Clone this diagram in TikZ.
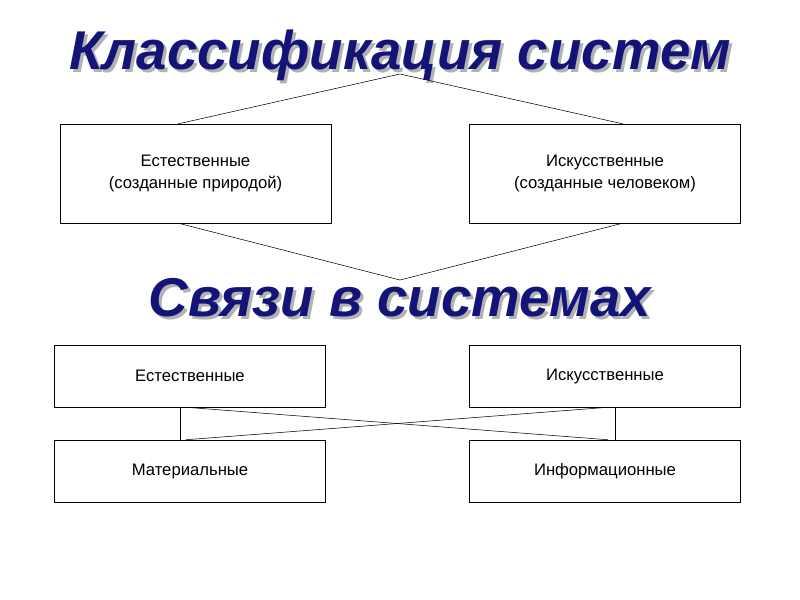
\documentclass[tikz,border=0pt]{standalone}
\usepackage{fontspec}
\setmainfont{Liberation Sans}
\definecolor{navy}{RGB}{20,20,120}
\tikzset{
  box/.style={draw,thin,minimum width=203pt,inner sep=0pt,align=center,font=\fontsize{12.5}{16}\selectfont},
  title/.style={font=\fontsize{41}{43}\selectfont\bfseries\itshape,text=navy},
  link/.style={draw,thin}
}
\begin{document}
\begin{tikzpicture}[x=0.75pt,y=-0.75pt]
\useasboundingbox (0,0) rectangle (800,600);
% titles with shadow
\node[title,text=gray!60] at (403,58) {Классификация систем};
\node[title] (t1) at (400,55) {Классификация систем};
\node[title,text=gray!60] at (403,301) {Связи в системах};
\node[title] (t2) at (400,298) {Связи в системах};
\coordinate (top) at (400,74);
\coordinate (mid) at (400,280);
% system boxes
\node[box,minimum height=74pt] (nat) at (195.5,173.5) {Естественные\\(созданные природой)};
\node[box,minimum height=74pt] (art) at (605,173.5) {Искусственные\\(созданные человеком)};
\draw[link] (nat.north -| 178,0) -- (top) -- (art.north -| 623,0);
\draw[link] (nat.south -| 178,0) -- (mid) -- (art.south -| 623,0);
% link boxes
\node[box,minimum height=46.5pt] (lnat) at (190,376) {Естественные};
\node[box,minimum height=46.5pt] (lart) at (605,376) {Искусственные};
\node[box,minimum height=46.5pt] (mat) at (190,471) {Материальные};
\node[box,minimum height=46.5pt] (inf) at (605,471) {Информационные};
\draw[link] (lnat.south -| 180,0) -- (mat.north -| 180,0);
\draw[link] (lart.south -| 615,0) -- (inf.north -| 615,0);
\draw[link] (lnat.south -| 186,0) -- (inf.north -| 608,0);
\draw[link] (mat.north -| 186,0) -- (lart.south -| 608,0);
\end{tikzpicture}
\end{document}
